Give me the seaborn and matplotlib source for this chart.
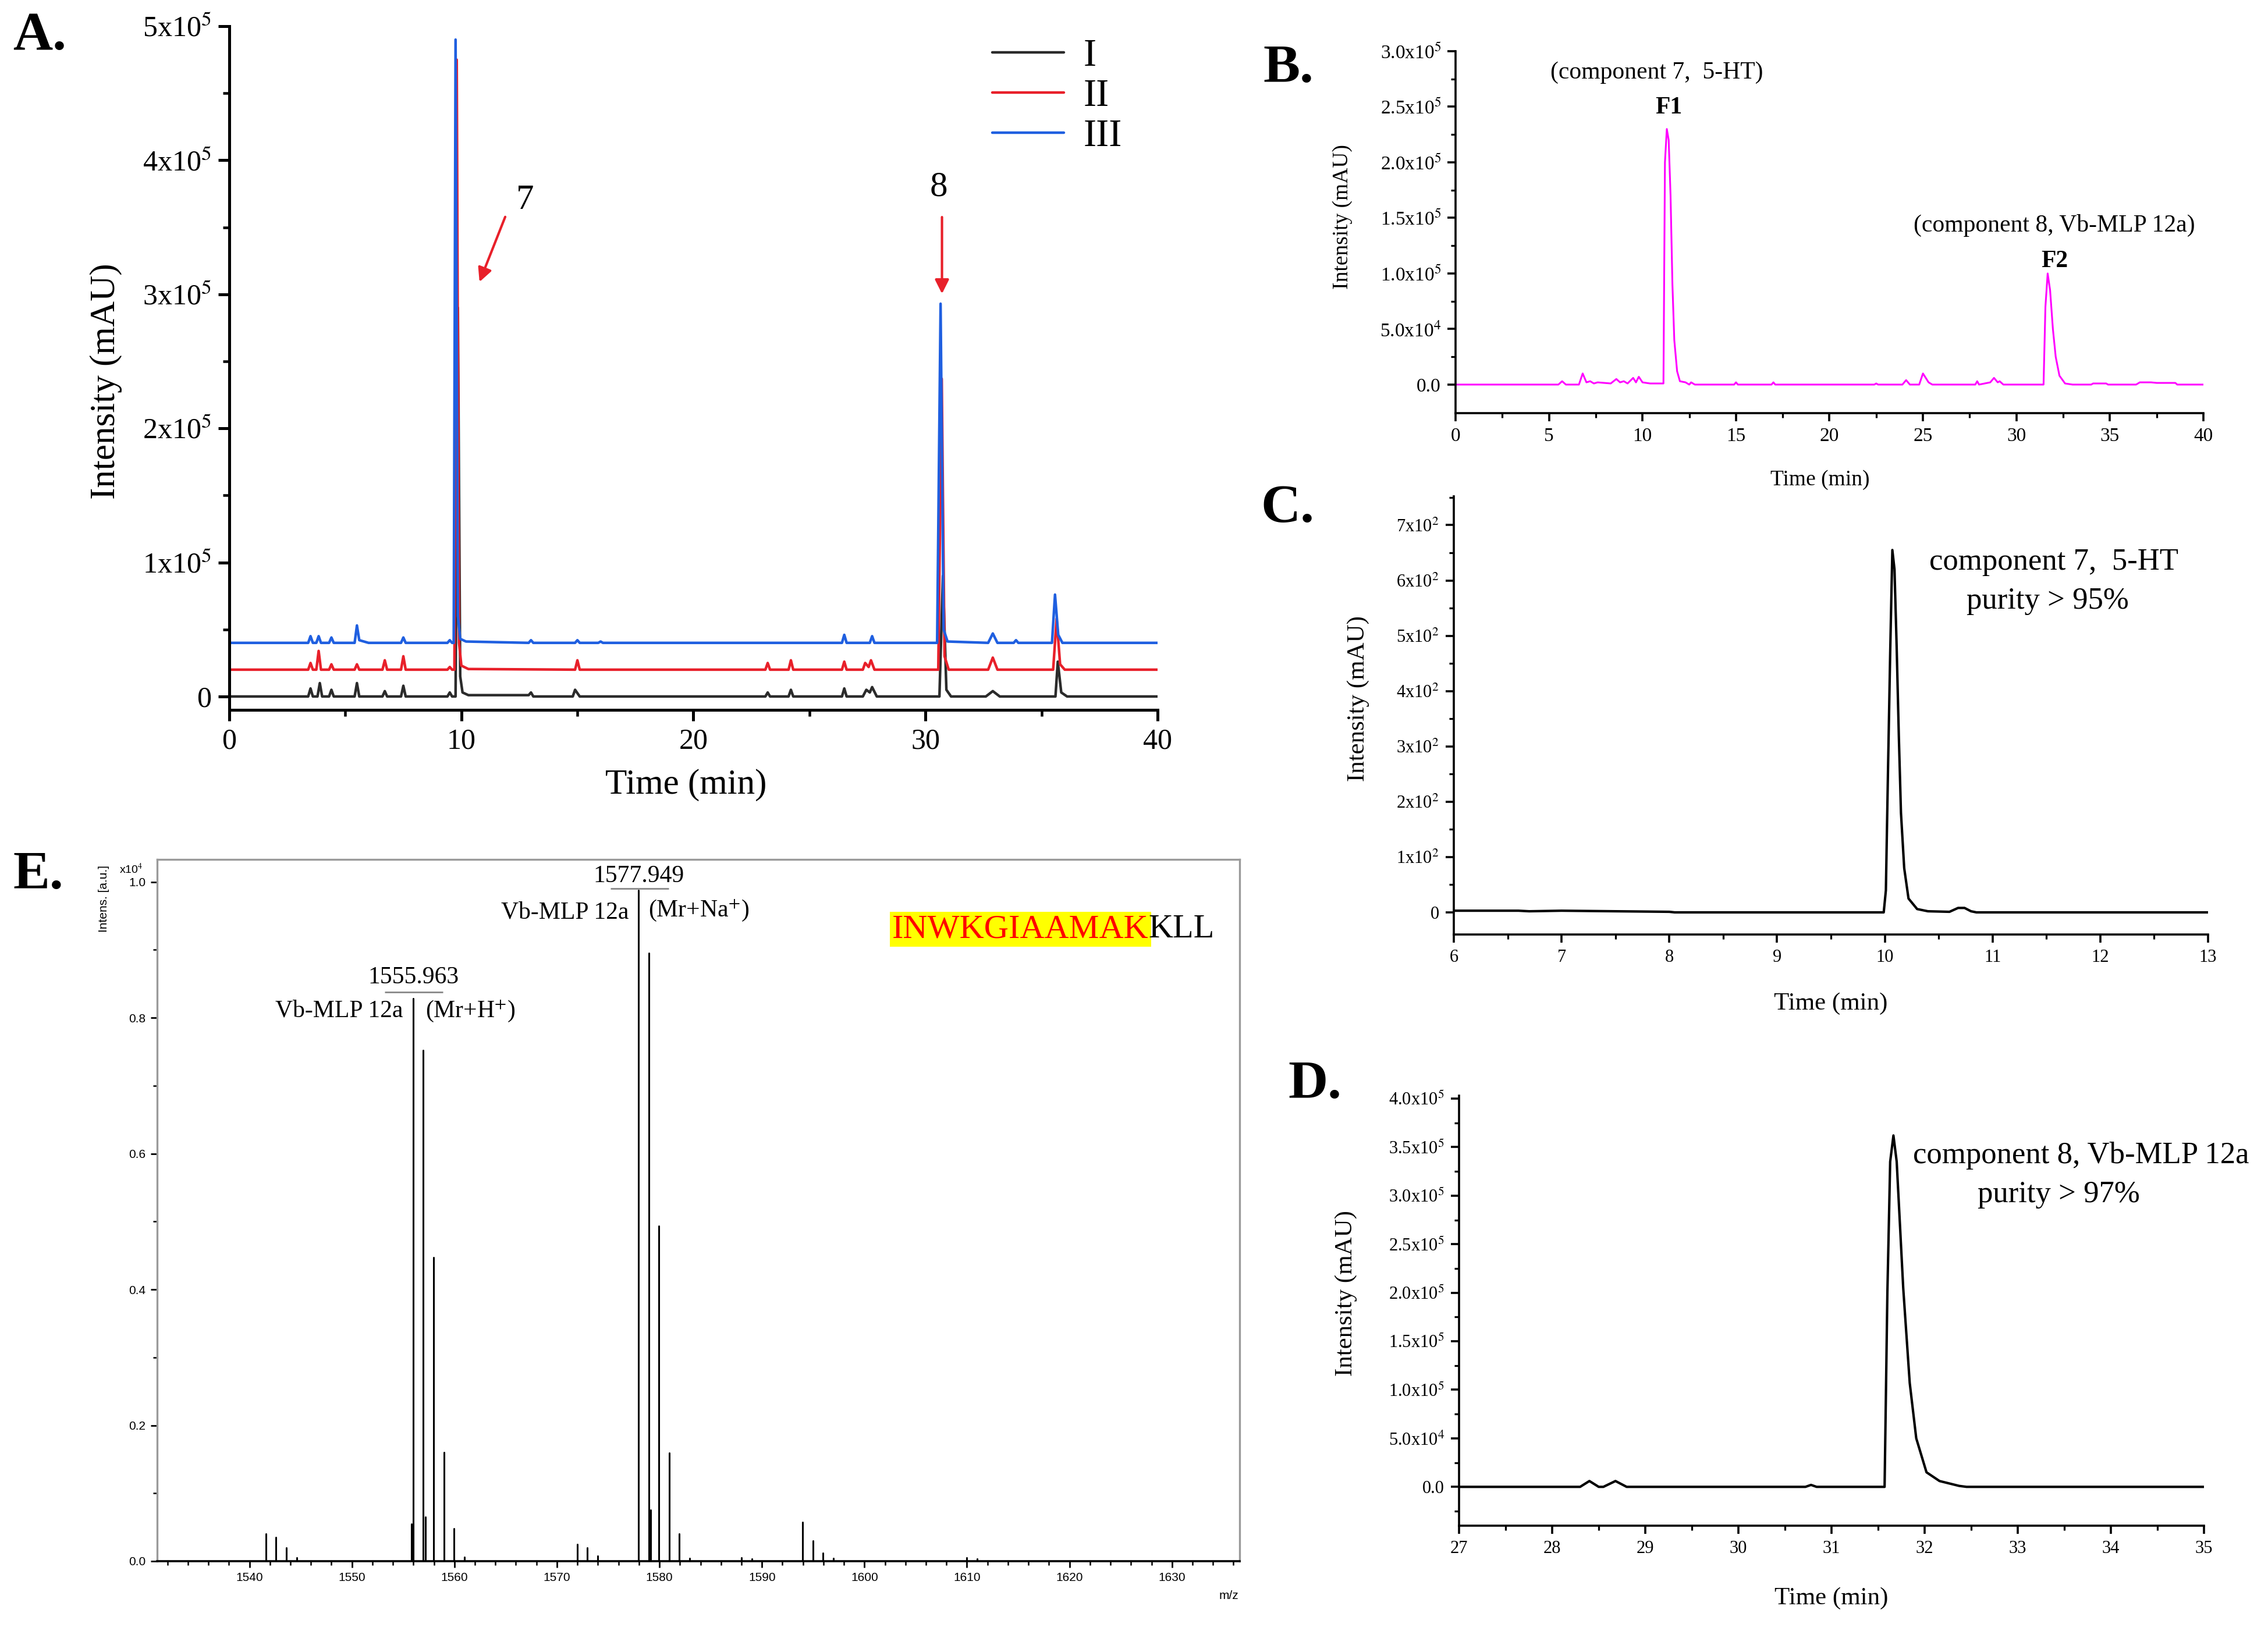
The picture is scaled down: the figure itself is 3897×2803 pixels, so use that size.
import matplotlib
matplotlib.use("Agg")
import numpy as np
import pandas as pd
import matplotlib.pyplot as plt
import seaborn as sns

# ===================== DATA =====================
# Panel A: three HPLC chromatograms (time [min], intensity [mAU]); traces are offset in the original
trace_I = [(0, 0), (3.4, 0), (3.5, 6e3), (3.6, 0), (3.8, 0), (3.9, 1.0e4), (4.0, 0), (4.3, 0), (4.4, 5e3), (4.5, 0),
           (5.4, 0), (5.5, 1.0e4), (5.6, 0), (6.6, 0), (6.7, 4e3), (6.8, 0), (7.4, 0), (7.5, 8e3), (7.6, 0),
           (9.4, 0), (9.5, 3e3), (9.6, 0), (9.75, 0), (9.85, 2.9e5), (9.95, 1.5e4), (10.05, 3e3), (10.3, 1e3),
           (12.9, 1e3), (13.0, 3e3), (13.1, 0), (14.8, 0), (14.9, 5e3), (15.1, 0), (23.1, 0), (23.2, 3e3), (23.3, 0),
           (24.1, 0), (24.2, 5e3), (24.3, 0), (26.4, 0), (26.5, 6e3), (26.6, 0), (27.3, 0), (27.45, 5e3), (27.6, 3e3),
           (27.7, 7e3), (27.9, 0), (30.6, 0), (30.75, 9.0e4), (30.9, 5e3), (31.1, 0), (32.6, 0), (32.9, 4e3),
           (33.2, 0), (35.6, 0), (35.7, 2.6e4), (35.85, 3e3), (36.1, 0), (40, 0)]
trace_II = [(0, 2e4), (3.4, 2e4), (3.5, 2.5e4), (3.6, 2e4), (3.75, 2e4), (3.85, 3.4e4), (3.95, 2e4), (4.3, 2e4),
            (4.4, 2.4e4), (4.5, 2e4), (5.4, 2e4), (5.5, 2.4e4), (5.6, 2e4), (6.6, 2e4), (6.7, 2.7e4), (6.8, 2e4),
            (7.4, 2e4), (7.5, 3.0e4), (7.6, 2e4), (9.4, 2e4), (9.5, 2.2e4), (9.6, 2e4), (9.7, 2e4), (9.8, 4.75e5),
            (9.9, 4e4), (10.0, 2.3e4), (10.3, 2.05e4), (14.9, 2e4), (15.0, 2.7e4), (15.1, 2e4), (23.1, 2e4),
            (23.2, 2.5e4), (23.3, 2e4), (24.1, 2e4), (24.2, 2.7e4), (24.3, 2e4), (26.4, 2e4), (26.5, 2.6e4),
            (26.6, 2e4), (27.3, 2e4), (27.4, 2.5e4), (27.55, 2.2e4), (27.65, 2.7e4), (27.8, 2e4), (30.55, 2e4),
            (30.7, 2.37e5), (30.82, 3e4), (31.0, 2e4), (32.7, 2e4), (32.9, 2.9e4), (33.1, 2e4), (35.5, 2e4),
            (35.65, 5.8e4), (35.8, 2.4e4), (36.0, 2e4), (40, 2e4)]
trace_III = [(0, 4e4), (3.4, 4e4), (3.5, 4.5e4), (3.6, 4e4), (3.75, 4e4), (3.85, 4.5e4), (3.95, 4e4), (4.3, 4e4),
             (4.4, 4.4e4), (4.5, 4e4), (5.4, 4e4), (5.5, 5.3e4), (5.6, 4.2e4), (5.8, 4.1e4), (6.0, 4e4), (7.4, 4e4),
             (7.5, 4.4e4), (7.6, 4e4), (9.4, 4e4), (9.5, 4.2e4), (9.6, 4e4), (9.67, 4e4), (9.75, 4.9e5), (9.85, 6e4),
             (9.95, 4.3e4), (10.2, 4.1e4), (12.9, 4e4), (13.0, 4.2e4), (13.1, 4e4), (14.9, 4e4), (15.0, 4.2e4),
             (15.1, 4e4), (15.9, 4e4), (16.0, 4.1e4), (16.1, 4e4), (26.4, 4e4), (26.5, 4.6e4), (26.6, 4e4),
             (27.6, 4e4), (27.7, 4.5e4), (27.8, 4e4), (30.5, 4e4), (30.65, 2.93e5), (30.78, 5e4), (30.95, 4.1e4),
             (32.7, 4e4), (32.9, 4.7e4), (33.1, 4e4), (33.8, 4e4), (33.9, 4.2e4), (34.0, 4e4), (35.45, 4e4),
             (35.58, 7.6e4), (35.72, 4.6e4), (35.9, 4e4), (40, 4e4)]
A_names = ["I", "II", "III"]
A_colors = ["#2b2b2b", "#e8202a", "#1f5fe0"]
A_xticks = [0, 10, 20, 30, 40]
A_yticks = [0, 1e5, 2e5, 3e5, 4e5, 5e5]
A_yticklabels = ["0", "1x10$^5$", "2x10$^5$", "3x10$^5$", "4x10$^5$", "5x10$^5$"]

# Panel B: preparative chromatogram
trace_B = [(0, 0), (5.5, 0), (5.7, 3e3), (5.9, 0), (6.6, 0), (6.8, 1.0e4), (7.0, 2e3), (7.2, 3e3), (7.4, 1e3),
           (7.6, 2e3), (8.3, 1e3), (8.6, 5e3), (8.8, 2e3), (9.0, 3e3), (9.2, 1e3), (9.5, 6e3), (9.65, 2e3),
           (9.8, 7e3), (10.0, 2e3), (10.4, 1e3), (11.12, 1e3), (11.2, 2.0e5), (11.3, 2.3e5), (11.4, 2.2e5),
           (11.5, 1.7e5), (11.6, 9e4), (11.7, 4e4), (11.85, 1.2e4), (12.0, 3e3), (12.3, 2e3), (12.5, 0),
           (12.6, 2e3), (12.8, 0), (14.9, 0), (15.0, 2e3), (15.1, 0), (16.9, 0), (17.0, 2e3), (17.1, 0),
           (22.4, 0), (22.5, 1e3), (22.6, 0), (23.9, 0), (24.1, 4e3), (24.3, 0), (24.8, 0), (25.0, 1.0e4),
           (25.3, 2e3), (25.5, 0), (27.8, 0), (27.9, 3e3), (28.0, 0), (28.6, 2e3), (28.8, 6e3), (29.0, 2e3),
           (29.1, 3e3), (29.3, 0), (31.45, 0), (31.55, 7e4), (31.67, 1.0e5), (31.8, 8.5e4), (31.95, 5e4),
           (32.1, 2.5e4), (32.3, 8e3), (32.6, 1e3), (33.0, 0), (34.0, 0), (34.1, 1e3), (34.8, 1e3), (34.9, 0),
           (36.4, 0), (36.6, 2e3), (37.2, 2e3), (37.5, 1.5e3), (38.5, 1.5e3), (38.6, 0), (40, 0)]
B_xticks = [0, 5, 10, 15, 20, 25, 30, 35, 40]
B_yticks = [0, 5e4, 1e5, 1.5e5, 2e5, 2.5e5, 3e5]
B_yticklabels = ["0.0", "5.0x10$^4$", "1.0x10$^5$", "1.5x10$^5$", "2.0x10$^5$", "2.5x10$^5$", "3.0x10$^5$"]

# Panel C: purity check of component 7
trace_C = [(6.0, 3), (6.6, 3), (6.7, 2), (7.0, 3), (8.0, 1), (8.05, 0), (9.99, 0), (10.01, 40), (10.03, 260),
           (10.05, 470), (10.07, 655), (10.09, 620), (10.11, 480), (10.13, 320), (10.15, 180), (10.18, 80),
           (10.22, 25), (10.3, 6), (10.4, 2), (10.6, 1), (10.68, 8), (10.74, 8), (10.8, 2), (10.85, 0), (13.0, 0)]
C_xticks = [6, 7, 8, 9, 10, 11, 12, 13]
C_yticks = [0, 100, 200, 300, 400, 500, 600, 700]
C_yticklabels = ["0", "1x10$^2$", "2x10$^2$", "3x10$^2$", "4x10$^2$", "5x10$^2$", "6x10$^2$", "7x10$^2$"]

# Panel D: purity check of component 8
trace_D = [(27.0, 0), (28.3, 0), (28.4, 6e3), (28.5, 0), (28.55, 0), (28.68, 6e3), (28.8, 0), (30.72, 0),
           (30.78, 2e3), (30.84, 0), (31.57, 0), (31.6, 2.0e5), (31.63, 3.35e5), (31.665, 3.62e5), (31.7, 3.35e5),
           (31.77, 2.05e5), (31.84, 1.07e5), (31.91, 5e4), (32.02, 1.5e4), (32.16, 6e3), (32.37, 1e3),
           (32.45, 0), (35.0, 0)]
D_xticks = [27, 28, 29, 30, 31, 32, 33, 34, 35]
D_yticks = [0, 5e4, 1e5, 1.5e5, 2e5, 2.5e5, 3e5, 3.5e5, 4e5]
D_yticklabels = ["0.0", "5.0x10$^4$", "1.0x10$^5$", "1.5x10$^5$", "2.0x10$^5$", "2.5x10$^5$",
                 "3.0x10$^5$", "3.5x10$^5$", "4.0x10$^5$"]

# Panel E: MALDI-TOF spectrum (m/z, relative intensity x10^4)
E_mz = [1541.6, 1542.6, 1543.6, 1544.6, 1555.8, 1555.963, 1556.97, 1557.15, 1557.97, 1558.97, 1559.97, 1560.97,
        1572.0, 1572.95, 1573.95, 1577.949, 1578.95, 1579.15, 1579.95, 1580.95, 1581.95, 1582.95,
        1588.0, 1589.0, 1593.96, 1594.96, 1595.96, 1596.96, 1610.0, 1611.0]
E_int = [0.040, 0.035, 0.020, 0.005, 0.055, 0.828, 0.752, 0.065, 0.447, 0.160, 0.048, 0.006,
         0.025, 0.020, 0.008, 0.988, 0.895, 0.075, 0.493, 0.159, 0.040, 0.004,
         0.005, 0.003, 0.057, 0.030, 0.012, 0.004, 0.005, 0.003]
E_xticks = [1540, 1550, 1560, 1570, 1580, 1590, 1600, 1610, 1620, 1630]
E_yticks = [0.0, 0.2, 0.4, 0.6, 0.8, 1.0]
E_yticklabels = ["0.0", "0.2", "0.4", "0.6", "0.8", "1.0"]

# ===================== STYLE =====================
sns.set_theme(style="ticks")
plt.rcParams["font.family"] = ["Liberation Serif", "DejaVu Serif"]
plt.rcParams["mathtext.fontset"] = "stix"
for k in ["text.color", "axes.labelcolor", "xtick.color", "ytick.color", "axes.edgecolor"]:
    plt.rcParams[k] = "black"

W, H = 3898, 2803
fig = plt.figure(figsize=(W / 200, H / 200), dpi=200)
fig.patch.set_facecolor("white")


def trace_df(trace, name=None):
    t, y = zip(*trace)
    df = pd.DataFrame({"time": t, "intensity": y})
    if name is not None:
        df["sample"] = name
    return df


def px_axes(l, r, top, bot):
    return fig.add_axes([l / W, 1 - bot / H, (r - l) / W, (bot - top) / H])


def style_ticks(ax, lw, maj, mino, lsize, xmin_ticks, ymin_ticks):
    for s in ["left", "bottom"]:
        ax.spines[s].set_linewidth(lw)
    ax.xaxis.set_minor_locator(matplotlib.ticker.FixedLocator(xmin_ticks))
    ax.yaxis.set_minor_locator(matplotlib.ticker.FixedLocator(ymin_ticks))
    ax.tick_params(which="major", direction="out", length=maj, width=lw, labelsize=lsize, pad=4)
    ax.tick_params(which="minor", direction="out", length=mino, width=lw * 0.9)


# ---------------- Panel A ----------------
axA = px_axes(394, 1989, 45, 1220)
dfA = pd.concat([trace_df(tr, n) for tr, n in zip([trace_I, trace_II, trace_III], A_names)], ignore_index=True)
sns.lineplot(data=dfA, x="time", y="intensity", hue="sample", hue_order=A_names, palette=A_colors,
             estimator=None, sort=False, lw=1.6, ax=axA)
sns.despine(ax=axA)
axA.set_xlim(0, 40)
axA.set_ylim(-1.0e4, 5e5)
axA.set_xticks(A_xticks)
axA.set_xticklabels([str(v) for v in A_xticks])
axA.set_yticks(A_yticks)
axA.set_yticklabels(A_yticklabels)
style_ticks(axA, 1.8, 7, 4, 18, [5, 15, 25, 35], np.arange(5e4, 5e5, 1e5))
axA.set_xlabel("Time (min)", fontsize=22, va="center")
axA.set_ylabel("Intensity (mAU)", fontsize=22, va="center")
axA.xaxis.set_label_coords(0.492, -0.11)
axA.yaxis.set_label_coords(-0.133, 0.481)
h, l = axA.get_legend_handles_labels()
axA.legend(h, l, loc="upper left", bbox_to_anchor=(0.822, 0.982), frameon=False, fontsize=24,
           handlelength=1.85, handletextpad=0.5, labelspacing=0.12, borderpad=0, borderaxespad=0)
axA.annotate("", xy=(10.73, 3.07e5), xytext=(11.94, 3.60e5),
             arrowprops=dict(arrowstyle="-|>", color="#e8202a", lw=1.5, mutation_scale=18))
axA.text(12.75, 3.70e5, "7", fontsize=22, ha="center", va="center")
axA.annotate("", xy=(30.71, 2.98e5), xytext=(30.71, 3.60e5),
             arrowprops=dict(arrowstyle="-|>", color="#e8202a", lw=1.5, mutation_scale=18))
axA.text(30.58, 3.80e5, "8", fontsize=22, ha="center", va="center")

# ---------------- Panel B ----------------
axB = px_axes(2501, 3786, 88, 710)
sns.lineplot(data=trace_df(trace_B), x="time", y="intensity", color="#ff00ff", estimator=None, sort=False,
             lw=1.1, ax=axB)
sns.despine(ax=axB)
axB.set_xlim(0, 40)
axB.set_ylim(-2.57e4, 3e5)
axB.set_xticks(B_xticks)
axB.set_xticklabels([str(v) for v in B_xticks])
axB.set_yticks(B_yticks)
axB.set_yticklabels(B_yticklabels)
style_ticks(axB, 1.3, 5, 3, 12, np.arange(2.5, 40, 5), np.arange(2.5e4, 3e5, 5e4))
axB.set_xlabel("Time (min)", fontsize=13.5, va="center")
axB.set_ylabel("Intensity (mAU)", fontsize=13.5, va="center")
axB.xaxis.set_label_coords(0.487, -0.185)
axB.yaxis.set_label_coords(-0.151, 0.542)
axB.text(10.77, 2.81e5, "(component 7,  5-HT)", fontsize=15, ha="center", va="center")
axB.text(11.39, 2.49e5, "F1", fontsize=15, weight="bold", ha="center", va="center")
axB.text(32.03, 1.43e5, "(component 8, Vb-MLP 12a)", fontsize=15, ha="center", va="center")
axB.text(32.03, 1.11e5, "F2", fontsize=15, weight="bold", ha="center", va="center")

# ---------------- Panel C ----------------
axC = px_axes(2498, 3794, 853, 1606)
sns.lineplot(data=trace_df(trace_C), x="time", y="intensity", color="black", estimator=None, sort=False,
             lw=1.5, ax=axC)
sns.despine(ax=axC)
axC.set_xlim(6, 13)
axC.set_ylim(-40, 752)
axC.set_xticks(C_xticks)
axC.set_xticklabels([str(v) for v in C_xticks])
axC.set_yticks(C_yticks)
axC.set_yticklabels(C_yticklabels)
style_ticks(axC, 1.3, 5, 3, 11, np.arange(6.5, 13, 1), np.arange(50, 760, 100))
axC.set_xlabel("Time (min)", fontsize=15.5, va="center")
axC.set_ylabel("Intensity (mAU)", fontsize=15.5, va="center")
axC.xaxis.set_label_coords(0.5, -0.158)
axC.yaxis.set_label_coords(-0.127, 0.538)
axC.text(11.57, 633, "component 7,  5-HT", fontsize=19, ha="center", va="center")
axC.text(11.51, 563, "purity > 95%", fontsize=19, ha="center", va="center")

# ---------------- Panel D ----------------
axD = px_axes(2507, 3787, 1883, 2622)
sns.lineplot(data=trace_df(trace_D), x="time", y="intensity", color="black", estimator=None, sort=False,
             lw=1.5, ax=axD)
sns.despine(ax=axD)
axD.set_xlim(27, 35)
axD.set_ylim(-4.0e4, 4.03e5)
axD.set_xticks(D_xticks)
axD.set_xticklabels([str(v) for v in D_xticks])
axD.set_yticks(D_yticks)
axD.set_yticklabels(D_yticklabels)
style_ticks(axD, 1.3, 5, 3, 11, np.arange(27.5, 35, 1), np.arange(-2.5e4, 4e5, 5e4))
axD.set_xlabel("Time (min)", fontsize=15.5, va="center")
axD.set_ylabel("Intensity (mAU)", fontsize=15.5, va="center")
axD.xaxis.set_label_coords(0.5, -0.169)
axD.yaxis.set_label_coords(-0.152, 0.541)
axD.text(33.68, 3.41e5, "component 8, Vb-MLP 12a", fontsize=19, ha="center", va="center")
axD.text(33.44, 3.01e5, "purity > 97%", fontsize=19, ha="center", va="center")

# ---------------- Panel E ----------------
axE = px_axes(270, 2130, 1477, 2683)
dfE = pd.DataFrame({
    "mz": [m for m in E_mz for _ in range(2)],
    "intens": [v for i in E_int for v in (0.0, i)],
    "peak": [k for k in range(len(E_mz)) for _ in range(2)],
})
sns.lineplot(data=dfE, x="mz", y="intens", units="peak", estimator=None, sort=False, color="black",
             lw=1.1, ax=axE)
axE.set_xlim(1531, 1636.6)
axE.set_ylim(0, 1.033)
axE.set_xticks(E_xticks)
axE.set_xticklabels([str(v) for v in E_xticks])
axE.set_yticks(E_yticks)
axE.set_yticklabels(E_yticklabels)
axE.xaxis.set_minor_locator(matplotlib.ticker.FixedLocator([v for v in np.arange(1532, 1637, 2) if v % 10]))
axE.yaxis.set_minor_locator(matplotlib.ticker.FixedLocator(np.arange(0.1, 1.0, 0.2)))
axE.tick_params(which="major", direction="out", length=4, width=1.0, labelsize=7.5,
                labelfontfamily="Liberation Sans", pad=3)
axE.tick_params(which="minor", direction="out", length=2.5, width=0.9)
for s in ["top", "right", "left"]:
    axE.spines[s].set_color("#9a9a9a")
    axE.spines[s].set_linewidth(1.2)
axE.spines["bottom"].set_linewidth(1.3)
axE.set_xlabel("")
axE.set_ylabel("")
axE.text(-0.049, 0.944, "Intens. [a.u.]", transform=axE.transAxes, rotation=90, ha="center", va="center",
         fontsize=7.5, family="Liberation Sans")
axE.text(-0.024, 0.986, "x10$^4$", transform=axE.transAxes, ha="center", va="center", fontsize=7,
         family="Liberation Sans")
axE.text(0.99, -0.049, "m/z", transform=axE.transAxes, ha="center", va="center", fontsize=7.5,
         family="Liberation Sans")

axE.text(1578.0, 1.008, "1577.949", fontsize=15, ha="center", va="center")
axE.hlines(0.99, 1575.2, 1580.9, color="#888888", lw=1.0)
axE.text(1577.0, 0.955, "Vb-MLP 12a", fontsize=15, ha="right", va="center")
axE.text(1578.9, 0.958, "(Mr+Na$^{+}$)", fontsize=15, ha="left", va="center")
axE.text(1556.0, 0.859, "1555.963", fontsize=15, ha="center", va="center")
axE.hlines(0.838, 1553.2, 1558.9, color="#888888", lw=1.0)
axE.text(1555.0, 0.81, "Vb-MLP 12a", fontsize=15, ha="right", va="center")
axE.text(1557.2, 0.81, "(Mr+H$^{+}$)", fontsize=15, ha="left", va="center")
seq1 = axE.text(1602.7, 0.93, "INWKGIAAMAK", fontsize=21, color="#ff0000", ha="left", va="center",
                bbox=dict(facecolor="#ffff00", edgecolor="none", pad=1.5))
axE.annotate("KLL", xy=(1, 0.5), xycoords=seq1, ha="left", va="center", fontsize=21, color="black")

# ---------------- panel letters ----------------
for txt, x, y in [("A.", 22, 62), ("B.", 2170, 119), ("C.", 2166, 875), ("D.", 2213, 1865), ("E.", 22, 1504)]:
    fig.text(x / W, 1 - y / H, txt, fontsize=34, weight="bold", ha="left", va="center")

fig.savefig("out.png", dpi=200)
